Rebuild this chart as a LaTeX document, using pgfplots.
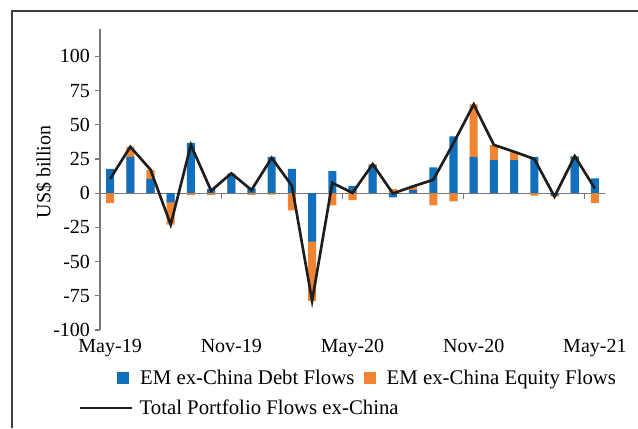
\documentclass[border=0pt]{standalone}
\usepackage{fontspec}
\setmainfont{Liberation Serif}
\usepackage{pgfplots}
\usepackage{pgfplotstable}
\pgfplotsset{compat=1.18}
\definecolor{debtblue}{RGB}{16,112,190}
\definecolor{eqorange}{RGB}{240,132,50}
\definecolor{axgray}{RGB}{120,120,120}
\definecolor{linedark}{RGB}{30,30,30}

\pgfplotstableread{
idx debt equity total
0 17.7 -7.3 10.4
1 26.6 7.3 33.9
2 10.4 6.6 17.2
3 -6.8 -16.2 -23.0
4 36.8 -1.5 35.3
5 3.0 -1.5 1.8
6 13.8 0.7 14.5
7 3.6 -1.5 2.3
8 26.6 -1.0 25.8
9 17.7 -12.6 5.4
10 -35.4 -43.3 -78.7
11 16.2 -9.0 7.5
12 5.3 -5.1 0.2
13 20.5 0.8 21.2
14 -3.1 2.9 -0.2
15 2.5 2.6 5.0
16 18.9 -9.0 9.8
17 41.6 -6.0 36.6
18 26.6 38.3 64.9
19 24.2 10.9 35.3
20 24.2 6.1 30.3
21 26.6 -1.7 25.0
22 -1.5 -1.0 -2.5
23 26.6 0.5 27.1
24 10.9 -7.3 3.4
}\flows

\begin{document}
\begin{tikzpicture}
\path[use as bounding box] (0,0) rectangle (478.5pt,321pt);
\draw[line width=0.9pt, color=black!75] (9pt,0pt) -- (9pt,312.75pt) -- (478.5pt,312.75pt);

\pgfplotsset{base/.style={
  scale only axis, width=378.75pt, height=225.75pt,
  xmin=-0.5, xmax=24.5, ymin=-100, ymax=120,
  anchor=south west, at={(75pt,73.5pt)},
  /pgf/number format/assume math mode=true,
  font=\fontsize{15}{18}\selectfont,
}}

\begin{axis}[base,
  axis y line*=left, axis x line*=middle,
  axis line style={axgray, line width=0.8pt, -},
  every tick/.style={axgray, line width=0.8pt},
  ytick={-100,-75,-50,-25,0,25,50,75,100},
  yticklabels={-100,-75,-50,-25,0,25,50,75,100},
  tick align=outside,
  major tick length=4pt,
  xtick={5.5,11.5,17.5,23.5},
  xticklabels={},
  extra x ticks={0,6,12,18,24},
  extra x tick labels={May-19,Nov-19,May-20,Nov-20,May-21},
  extra x tick style={major tick length=0pt, xticklabel style={yshift=-106pt}},
  ylabel={US\$ billion},
  every axis y label/.style={at={(axis description cs:-0.111,0.525)}, rotate=90, anchor=center},
  legend columns=2,
  legend style={draw=none, fill=none, inner sep=0pt, at={(axis description cs:0.0337,-0.159)}, anchor=west,
    font=\fontsize{15.6}{18}\selectfont,
    /tikz/every odd column/.append style={column sep=6.5pt},
    /tikz/every even column/.append style={column sep=5pt}},
  legend cell align=left,
]
\addplot[ybar, bar width=0.4, bar shift=0pt, fill=eqorange, draw=none, forget plot]
  table[x=idx, y expr={(\thisrow{debt}*\thisrow{equity}>0) ? (\thisrow{debt}+\thisrow{equity}) : \thisrow{equity}}] {\flows};
\addplot[ybar, bar width=0.4, bar shift=0pt, fill=debtblue, draw=none, forget plot]
  table[x=idx, y=debt] {\flows};
\addlegendimage{legend image code/.code={\fill[debtblue] (0pt,-3.8pt) rectangle (8.25pt,4.4pt);}}
\addlegendentry{EM ex-China Debt Flows}
\addlegendimage{legend image code/.code={\fill[eqorange] (0pt,-3.8pt) rectangle (8.25pt,4.4pt);}}
\addlegendentry{EM ex-China Equity Flows}
\end{axis}

\begin{axis}[base, hide axis,
  legend style={draw=none, fill=none, inner sep=0pt, at={(axis description cs:-0.0436,-0.259)}, anchor=west,
    font=\fontsize{15.6}{18}\selectfont,
    /tikz/every odd column/.append style={column sep=3pt}},
  legend cell align=left,
]
\addplot[linedark, line width=2pt, line join=miter,
  legend image code/.code={\draw[linedark, line width=2pt] (0pt,0pt) -- (39pt,0pt);}]
  table[x=idx, y=total] {\flows};
\addlegendentry{Total Portfolio Flows ex-China}
\end{axis}
\end{tikzpicture}
\end{document}
